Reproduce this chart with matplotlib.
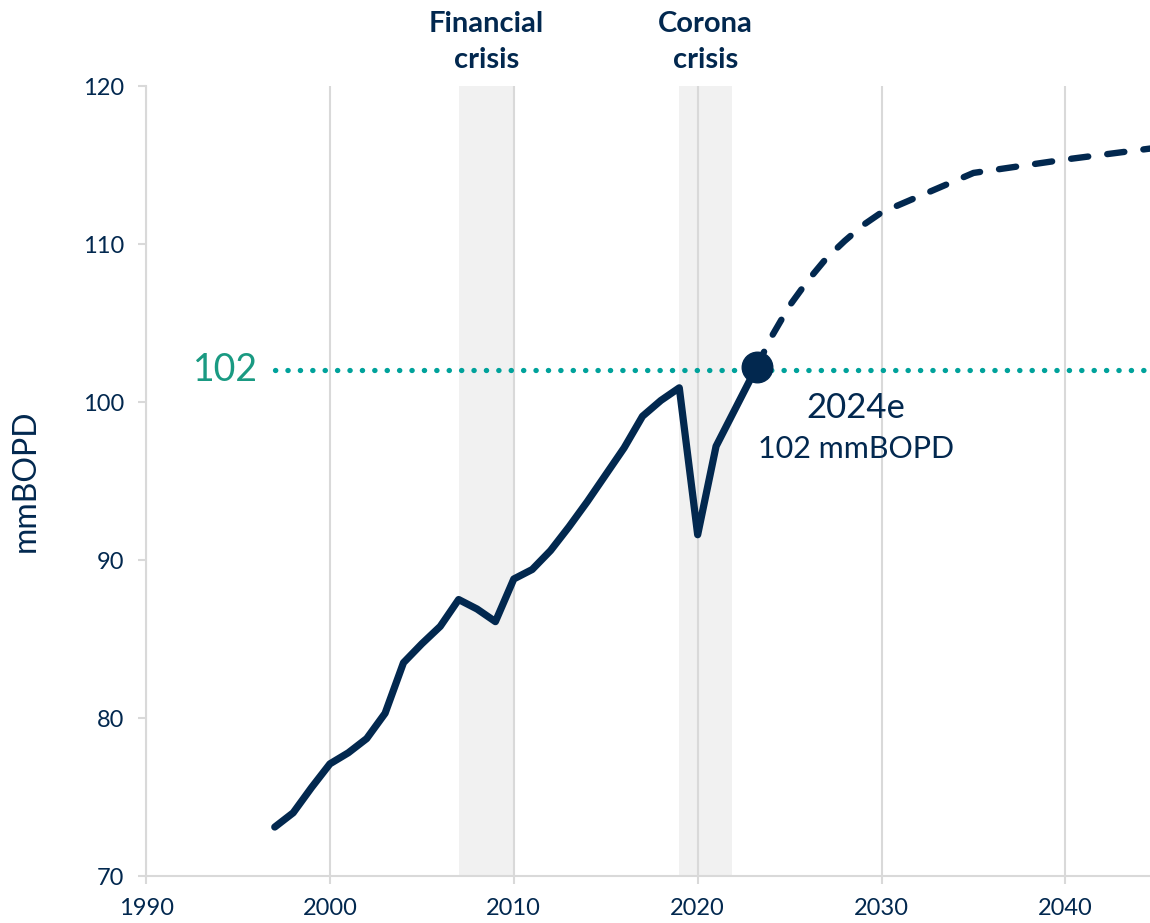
import matplotlib
matplotlib.use("Agg")
import matplotlib.pyplot as plt

navy = "#02284f"
teal_dots = "#00a29b"
teal_text = "#1a9a82"
grey = "#d9d9d9"

# historical demand (mmBOPD)
hist_years = [1997, 1998, 1999, 2000, 2001, 2002, 2003, 2004, 2005, 2006, 2007,
              2008, 2009, 2010, 2011, 2012, 2013, 2014, 2015, 2016, 2017, 2018,
              2019, 2020, 2021, 2023.2]
hist_vals = [73.1, 74.0, 75.6, 77.1, 77.8, 78.7, 80.3, 83.5, 84.7, 85.8, 87.5,
             86.9, 86.1, 88.8, 89.4, 90.6, 92.1, 93.7, 95.4, 97.1, 99.1, 100.1,
             100.9, 91.6, 97.2, 102.2]

# forecast
fc_years = [2023.2, 2024, 2025, 2026, 2027, 2028, 2029, 2030, 2035, 2040, 2045]
fc_vals = [102.2, 104.1, 106.1, 107.7, 109.1, 110.2, 111.2, 112.0, 114.5, 115.35, 116.1]

crises = [(2007.0, 2010.0, "Financial\ncrisis"), (2019.0, 2021.85, "Corona\ncrisis")]
ref_level = 102

plt.rcParams['font.family'] = ['Lato', 'DejaVu Sans']

fig = plt.figure(figsize=(11.5, 9.23), dpi=100)
ax = fig.add_axes([0.127, 0.0509, 0.873, 0.8559])

for x0, x1, label in crises:
    ax.axvspan(x0, x1, color="#f1f1f1", zorder=0, lw=0)
    ax.text((x0 + x1) / 2, 1.017, label, transform=ax.get_xaxis_transform(),
            ha="center", va="bottom", fontsize=21, fontweight="bold",
            color=navy, linespacing=1.45)

ax.plot([1997, 2045], [ref_level, ref_level], color=teal_dots, lw=3.8,
        linestyle=(0, (0.05, 2.3)), dash_capstyle="round", zorder=2)
ax.text(1996.1, ref_level, "102", color=teal_text, fontsize=27,
        ha="right", va="center")

ax.plot(hist_years, hist_vals, color=navy, lw=5.2, solid_capstyle="round",
        solid_joinstyle="round", zorder=3)
ax.plot(fc_years, fc_vals, color=navy, lw=4.6, linestyle=(0, (2.7, 3.0)),
        dash_capstyle="round", zorder=3)
ax.plot([hist_years[-1]], [hist_vals[-1]], "o", color=navy, markersize=22, zorder=4)

ax.text(2028.6, 99.6, "2024e", color=navy, fontsize=25, ha="center", va="center")
ax.text(2028.6, 97.0, "102 mmBOPD", color=navy, fontsize=22, ha="center", va="center")

ax.set_xlim(1990, 2044.6)
ax.set_ylim(70, 120)
ax.set_xticks(range(1990, 2041, 10))
ax.set_yticks(range(70, 121, 10))
ax.grid(axis="x", color=grey, lw=1.5, zorder=1)
ax.set_axisbelow(True)

for side in ["top", "right"]:
    ax.spines[side].set_visible(False)
for side in ["left", "bottom"]:
    ax.spines[side].set_color(grey)
    ax.spines[side].set_linewidth(1.5)

ax.tick_params(axis="both", length=6, width=1.5, color=grey, labelsize=17,
               labelcolor=navy, pad=10)
ax.set_ylabel("mmBOPD", fontsize=23, color=navy)
ax.yaxis.set_label_coords(-0.105, 0.5)

fig.savefig("out.png", dpi=100)
